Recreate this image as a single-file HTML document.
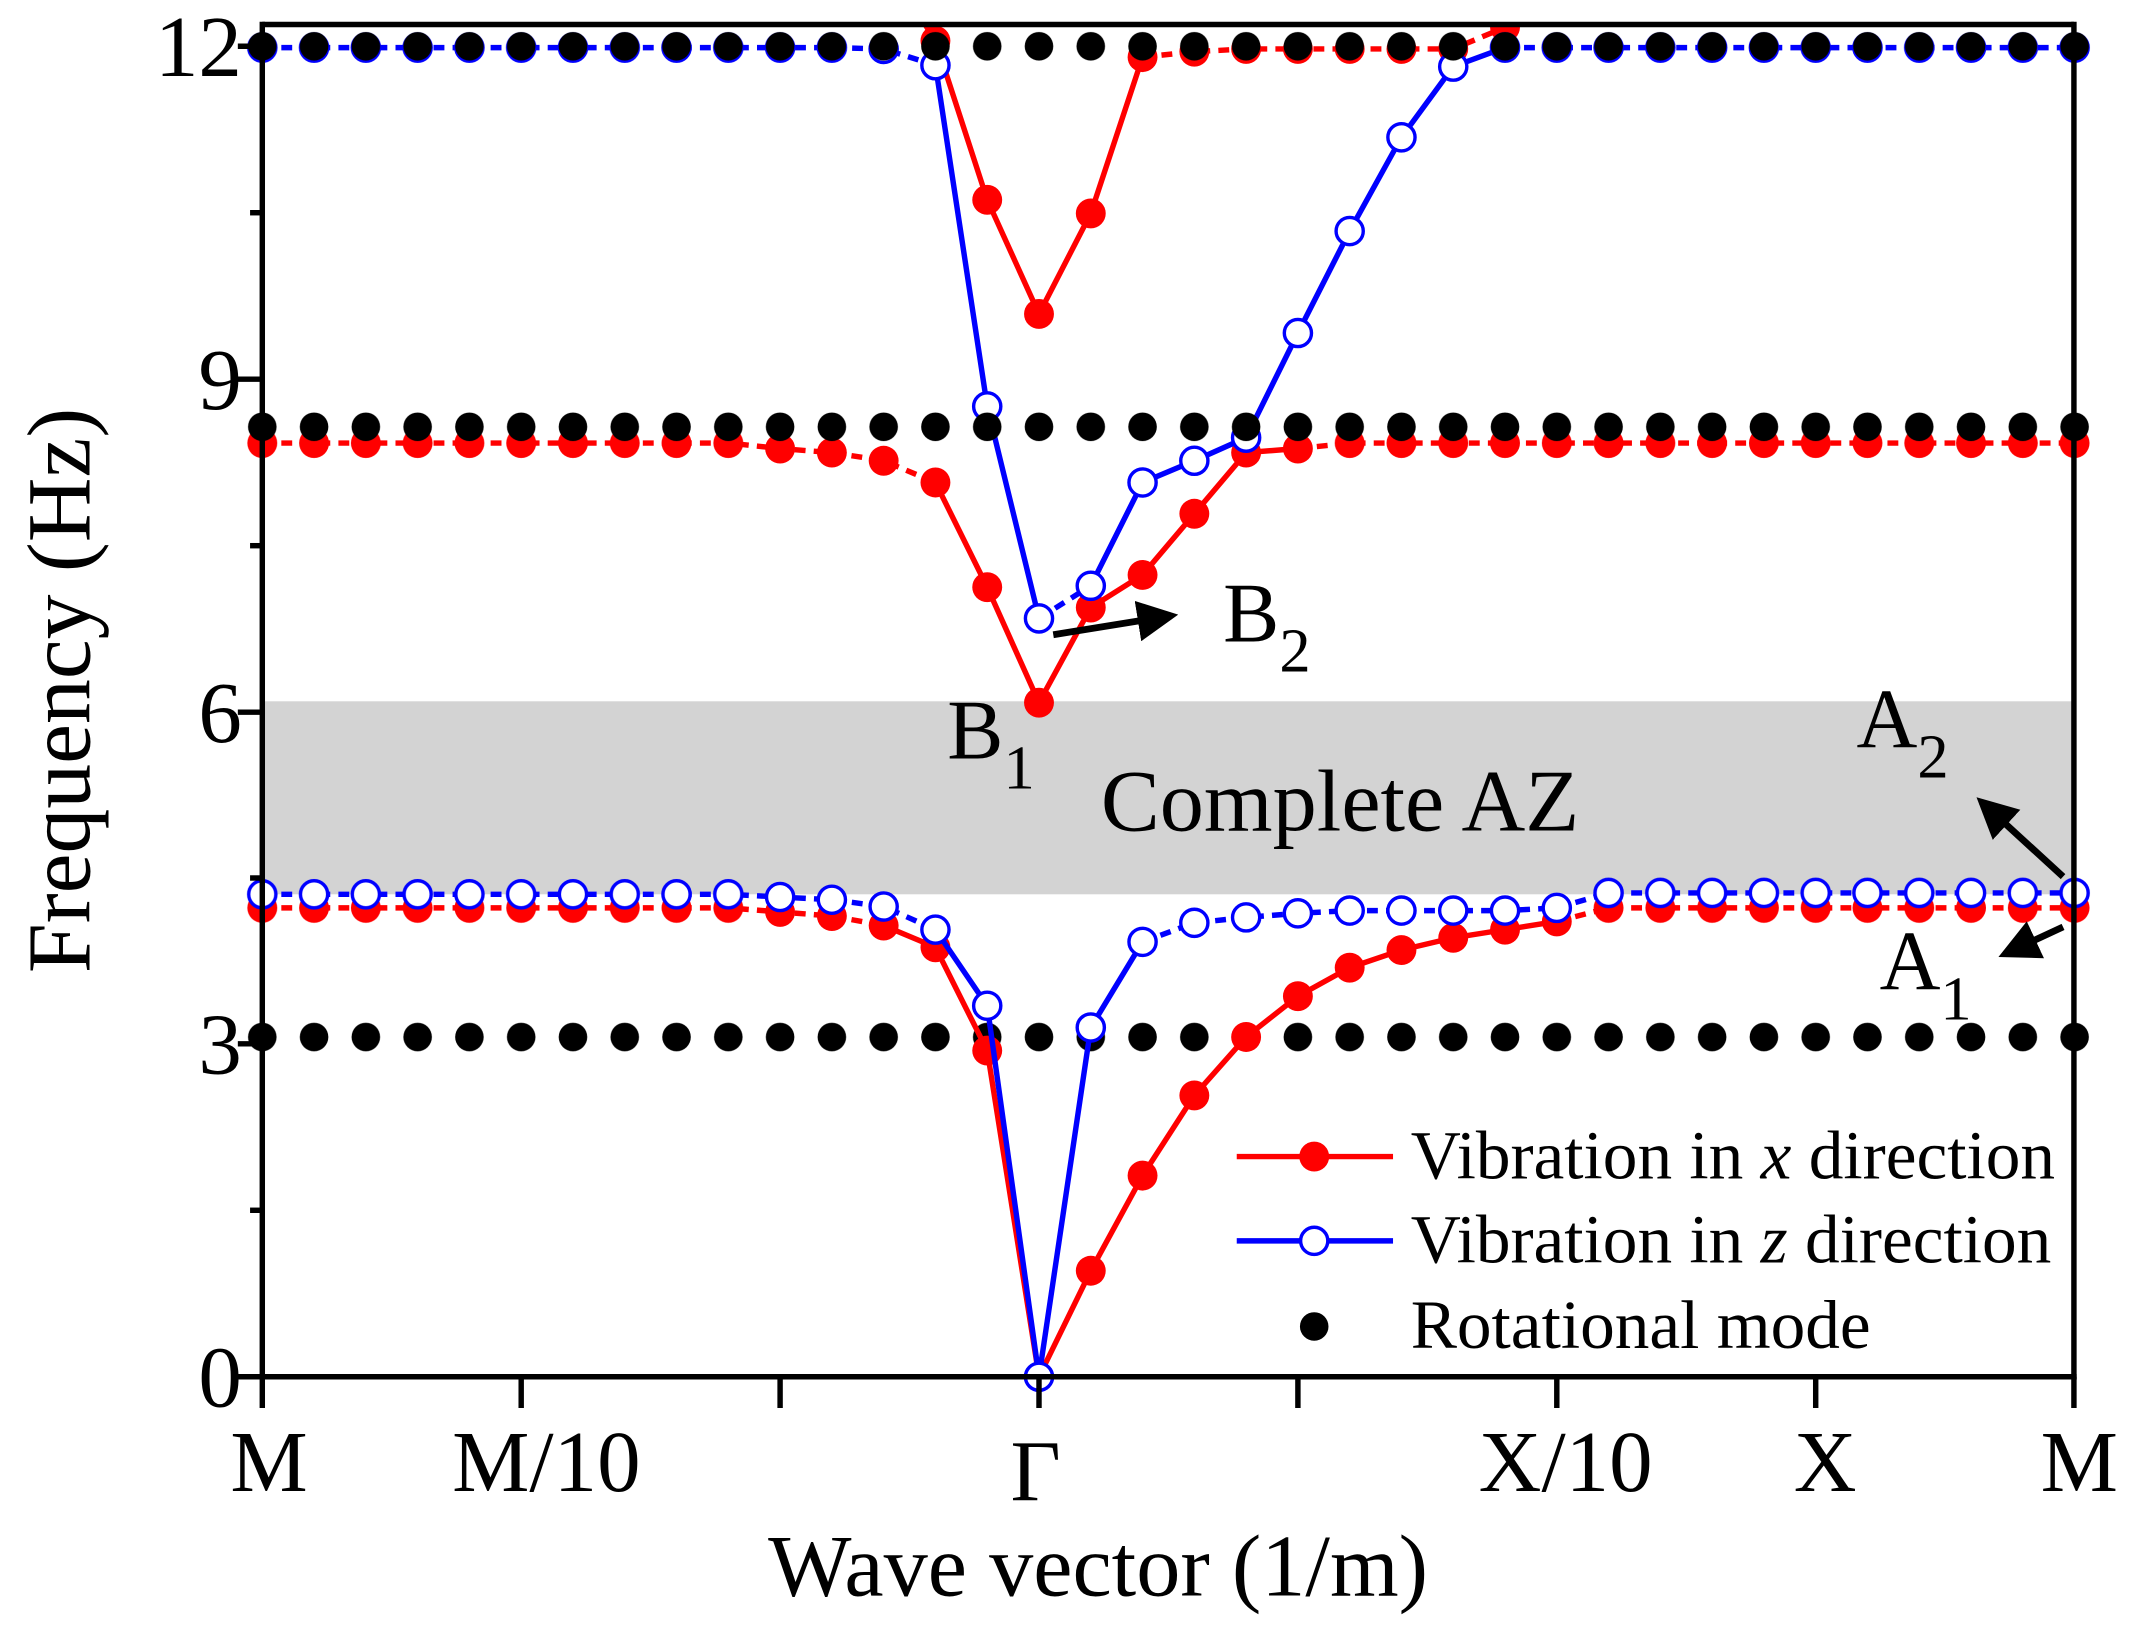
<!DOCTYPE html>
<html><head><meta charset="utf-8"><style>
html,body{margin:0;padding:0;background:#fff;width:2131px;height:1638px;overflow:hidden}
svg{display:block}
text{font-family:"Liberation Serif",serif;fill:#000}
</style></head><body>
<svg width="2131" height="1638" viewBox="0 0 1568 1205.2" xmlns="http://www.w3.org/2000/svg">
<defs>
<pattern id="pk" x="173.95" y="0" width="38.1" height="24" patternUnits="userSpaceOnUse"><circle cx="19.05" cy="12" r="10.5" fill="#000"/></pattern>
<pattern id="pr" x="173.95" y="0" width="38.1" height="24" patternUnits="userSpaceOnUse"><circle cx="19.05" cy="12" r="11" fill="#f00"/></pattern>
<pattern id="pb" x="173.95" y="0" width="38.1" height="24" patternUnits="userSpaceOnUse"><circle cx="19.05" cy="12" r="10" fill="#fff" stroke="#00f" stroke-width="2.5"/></pattern>
<clipPath id="cp"><rect x="170" y="18" width="1380" height="1010"/></clipPath>
<marker id="ah" markerWidth="6" markerHeight="6" refX="5" refY="3" orient="auto" markerUnits="strokeWidth"><path d="M0,0 L6,3 L0,6 Z" fill="#000"/></marker>
</defs>
<rect x="0" y="0" width="1568" height="1206" fill="#fff"/>
<rect x="193" y="516" width="1333" height="142" fill="#d3d3d3"/>

<g clip-path="url(#cp)">
<!-- black row 3.06 -->
<rect x="173.95" y="0" width="1371.6" height="24" transform="translate(0,751)" fill="url(#pk)"/>

<!-- red lower -->
<g fill="none" stroke="#f00" stroke-width="4">
<polyline stroke-dasharray="8,6" points="193,668 535.9,668 574,671 612.1,674 650.2,681"/>
<polyline points="650.2,681 688.3,697 726.4,773 764.5,1013 802.6,935 840.7,865 878.8,806 916.9,763 955,733 993.1,712 1031.2,699 1069.3,690 1107.4,684 1145.5,678"/>
<polyline stroke-dasharray="8,6" points="1145.5,678 1183.6,668 1526.5,668"/>
</g>
<rect x="173.95" y="0" width="381" height="24" transform="translate(0,656)" fill="url(#pr)"/>
<rect x="1164.55" y="0" width="381" height="24" transform="translate(0,656)" fill="url(#pr)"/>
<g fill="#f00">
<circle cx="574" cy="671" r="11"/><circle cx="612.1" cy="674" r="11"/><circle cx="650.2" cy="681" r="11"/><circle cx="688.3" cy="697" r="11"/><circle cx="726.4" cy="773" r="11"/><circle cx="764.5" cy="1013" r="11"/><circle cx="802.6" cy="935" r="11"/><circle cx="840.7" cy="865" r="11"/><circle cx="878.8" cy="806" r="11"/><circle cx="916.9" cy="763" r="11"/><circle cx="955" cy="733" r="11"/><circle cx="993.1" cy="712" r="11"/><circle cx="1031.2" cy="699" r="11"/><circle cx="1069.3" cy="690" r="11"/><circle cx="1107.4" cy="684" r="11"/><circle cx="1145.5" cy="678" r="11"/>
</g>

<!-- red middle -->
<g fill="none" stroke="#f00" stroke-width="4">
<polyline stroke-dasharray="8,6" points="193,326 535.9,326 574,330 612.1,333 650.2,339 688.3,355"/>
<polyline points="688.3,355 726.4,432 764.5,517 802.6,447 840.7,423 878.8,378 916.9,333 955,330"/>
<polyline stroke-dasharray="8,6" points="955,330 993.1,326 1526.5,326"/>
</g>
<rect x="173.95" y="0" width="381" height="24" transform="translate(0,314)" fill="url(#pr)"/>
<rect x="974.05" y="0" width="571.5" height="24" transform="translate(0,314)" fill="url(#pr)"/>
<g fill="#f00">
<circle cx="574" cy="330" r="11"/><circle cx="612.1" cy="333" r="11"/><circle cx="650.2" cy="339" r="11"/><circle cx="688.3" cy="355" r="11"/><circle cx="726.4" cy="432" r="11"/><circle cx="764.5" cy="517" r="11"/><circle cx="802.6" cy="447" r="11"/><circle cx="840.7" cy="423" r="11"/><circle cx="878.8" cy="378" r="11"/><circle cx="916.9" cy="333" r="11"/><circle cx="955" cy="330" r="11"/>
</g>

<!-- red upper -->
<g fill="none" stroke="#f00" stroke-width="4">
<polyline points="650.2,-30 688.3,30 726.4,147 764.5,231 802.6,157 840.7,42"/>
<polyline stroke-dasharray="8,6" points="840.7,42 878.8,38 916.9,36 1069.3,36 1107.4,20"/>
<polyline points="1107.4,20 1145.5,-10"/>
</g>
<g fill="#f00">
<circle cx="688.3" cy="30" r="11"/><circle cx="726.4" cy="147" r="11"/><circle cx="764.5" cy="231" r="11"/><circle cx="802.6" cy="157" r="11"/><circle cx="840.7" cy="42" r="11"/><circle cx="878.8" cy="38" r="11"/><circle cx="916.9" cy="36" r="11"/><circle cx="955" cy="36" r="11"/><circle cx="993.1" cy="36" r="11"/><circle cx="1031.2" cy="36" r="11"/><circle cx="1069.3" cy="36" r="11"/><circle cx="1107.4" cy="20" r="11"/>
</g>

<!-- blue lower -->
<g fill="none" stroke="#00f" stroke-width="4">
<polyline stroke-dasharray="8,6" points="193,658 535.9,658 574,660 612.1,662 650.2,667 688.3,684"/>
<polyline points="688.3,684 726.4,740 764.5,1013 802.6,756 840.7,693"/>
<polyline stroke-dasharray="8,6" points="840.7,693 878.8,679 916.9,675 955,672 993.1,670 1107.4,670 1145.5,668 1183.6,657 1526.5,657"/>
</g>
<rect x="173.95" y="0" width="381" height="24" transform="translate(0,646)" fill="url(#pb)"/>
<rect x="1164.55" y="0" width="381" height="24" transform="translate(0,645)" fill="url(#pb)"/>
<g fill="#fff" stroke="#00f" stroke-width="2.5">
<circle cx="574" cy="660" r="10"/><circle cx="612.1" cy="662" r="10"/><circle cx="650.2" cy="667" r="10"/><circle cx="688.3" cy="684" r="10"/><circle cx="726.4" cy="740" r="10"/><circle cx="764.5" cy="1013" r="10"/><circle cx="802.6" cy="756" r="10"/><circle cx="840.7" cy="693" r="10"/><circle cx="878.8" cy="679" r="10"/><circle cx="916.9" cy="675" r="10"/><circle cx="955" cy="672" r="10"/><circle cx="993.1" cy="670" r="10"/><circle cx="1031.2" cy="670" r="10"/><circle cx="1069.3" cy="670" r="10"/><circle cx="1107.4" cy="670" r="10"/><circle cx="1145.5" cy="668" r="10"/>
</g>

<!-- blue upper -->
<g fill="none" stroke="#00f" stroke-width="4">
<polyline stroke-dasharray="8,6" points="193,35 612.1,35 650.2,36 688.3,48"/>
<polyline points="688.3,48 726.4,299 764.5,455"/>
<polyline stroke-dasharray="8,6" points="764.5,455 802.6,431"/>
<polyline points="802.6,431 840.7,355 878.8,339 916.9,322 955,245 993.1,170 1031.2,101 1069.3,49 1107.4,35"/>
<polyline stroke-dasharray="8,6" points="1107.4,35 1526.5,35"/>
</g>
<rect x="173.95" y="0" width="457.2" height="24" transform="translate(0,23)" fill="url(#pb)"/>
<rect x="1088.35" y="0" width="457.2" height="24" transform="translate(0,23)" fill="url(#pb)"/>
<g fill="#fff" stroke="#00f" stroke-width="2.5">
<circle cx="650.2" cy="36" r="10"/><circle cx="688.3" cy="48" r="10"/><circle cx="726.4" cy="299" r="10"/><circle cx="764.5" cy="455" r="10"/><circle cx="802.6" cy="431" r="10"/><circle cx="840.7" cy="355" r="10"/><circle cx="878.8" cy="339" r="10"/><circle cx="916.9" cy="322" r="10"/><circle cx="955" cy="245" r="10"/><circle cx="993.1" cy="170" r="10"/><circle cx="1031.2" cy="101" r="10"/><circle cx="1069.3" cy="49" r="10"/>
</g>

<!-- black rows 8.57 and 12 -->
<rect x="173.95" y="0" width="1371.6" height="24" transform="translate(0,302)" fill="url(#pk)"/>
<rect x="173.95" y="0" width="1371.6" height="24" transform="translate(0,22)" fill="url(#pk)"/>
</g>

<!-- frame -->
<g stroke="#000" stroke-width="4" fill="none">
<line x1="193" y1="18" x2="1526" y2="18"/>
<line x1="193" y1="16" x2="193" y2="1015"/>
<line x1="191" y1="1013" x2="1528" y2="1013"/>
<line x1="1526" y1="16" x2="1526" y2="1015"/>
</g>
<g stroke="#000" stroke-width="4">
<line x1="175" y1="1013" x2="193" y2="1013"/>
<line x1="175" y1="768" x2="193" y2="768"/>
<line x1="175" y1="524" x2="193" y2="524"/>
<line x1="175" y1="279" x2="193" y2="279"/>
<line x1="175" y1="34" x2="193" y2="34"/>
<line x1="184" y1="890.5" x2="193" y2="890.5"/>
<line x1="184" y1="646" x2="193" y2="646"/>
<line x1="184" y1="401.5" x2="193" y2="401.5"/>
<line x1="184" y1="156.5" x2="193" y2="156.5"/>
<line x1="193" y1="1013" x2="193" y2="1036"/>
<line x1="383.5" y1="1013" x2="383.5" y2="1036"/>
<line x1="574" y1="1013" x2="574" y2="1036"/>
<line x1="764.5" y1="1013" x2="764.5" y2="1036"/>
<line x1="955" y1="1013" x2="955" y2="1036"/>
<line x1="1145.5" y1="1013" x2="1145.5" y2="1036"/>
<line x1="1336" y1="1013" x2="1336" y2="1036"/>
<line x1="1526" y1="1013" x2="1526" y2="1036"/>
</g>
<g font-size="64" text-anchor="end">
<text x="178" y="1035">0</text>
<text x="178" y="790">3</text>
<text x="178" y="546">6</text>
<text x="178" y="301">9</text>
<text x="178" y="56">12</text>
</g>
<g font-size="64" text-anchor="middle">
<text x="198" y="1097">M</text>
<text x="402" y="1097">M/10</text>
<text x="762" y="1104">Γ</text>
<text x="1152" y="1097">X/10</text>
<text x="1343" y="1097">X</text>
<text x="1530" y="1097">M</text>
</g>
<text x="808" y="1174" font-size="65" text-anchor="middle">Wave vector (1/m)</text>
<text transform="translate(66,508) rotate(-90)" font-size="66" text-anchor="middle">Frequency (Hz)</text>
<text x="986" y="611" font-size="65" text-anchor="middle">Complete AZ</text>
<text x="697" y="558" font-size="62">B<tspan font-size="46" dy="22">1</tspan></text>
<text x="900" y="472" font-size="62">B<tspan font-size="46" dy="22">2</tspan></text>
<text x="1366" y="550" font-size="62">A<tspan font-size="46" dy="22">2</tspan></text>
<text x="1383" y="728" font-size="62">A<tspan font-size="46" dy="22">1</tspan></text>
<g stroke="#000" stroke-width="5" marker-end="url(#ah)">
<line x1="775" y1="467" x2="862" y2="453"/>
<line x1="1518" y1="645" x2="1458" y2="590"/>
<line x1="1518" y1="682" x2="1475" y2="702"/>
</g>
<!-- legend -->
<line x1="910" y1="851" x2="1025" y2="851" stroke="#f00" stroke-width="4"/>
<circle cx="967" cy="851" r="11" fill="#f00"/>
<line x1="910" y1="913" x2="1025" y2="913" stroke="#00f" stroke-width="4"/>
<circle cx="967" cy="913" r="10" fill="#fff" stroke="#00f" stroke-width="2.5"/>
<circle cx="967" cy="976" r="10.5" fill="#000"/>
<g font-size="51">
<text x="1038" y="867">Vibration in <tspan font-style="italic">x</tspan> direction</text>
<text x="1038" y="929">Vibration in <tspan font-style="italic">z</tspan> direction</text>
<text x="1038" y="992">Rotational mode</text>
</g>
</svg>
</body></html>
